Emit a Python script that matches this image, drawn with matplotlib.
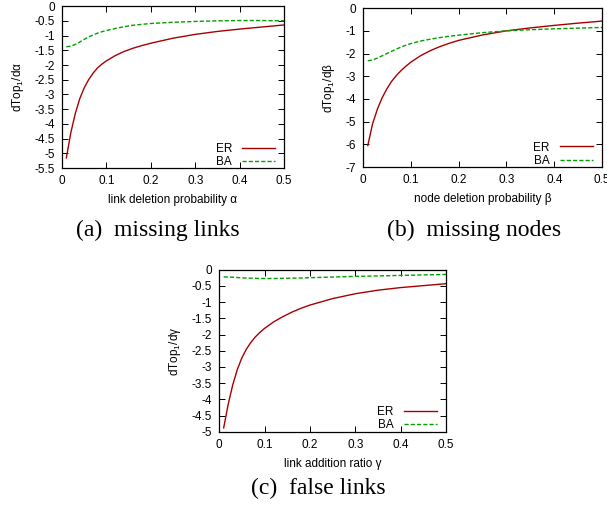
import numpy as np
import matplotlib
matplotlib.use('Agg')
import matplotlib.pyplot as plt
from matplotlib.ticker import FormatStrFormatter

plt.rcParams['font.family'] = ['Liberation Sans', 'DejaVu Sans']
plt.rcParams['mathtext.fontset'] = 'custom'
plt.rcParams['mathtext.rm'] = 'Liberation Sans'

# sample points along x (probability / ratio)
x = [0.01, 0.02, 0.03, 0.04, 0.05, 0.06, 0.07, 0.08, 0.09, 0.1,
     0.12, 0.14, 0.16, 0.18, 0.2, 0.25, 0.3, 0.35, 0.4, 0.45, 0.5]

# (a) missing links
er_a = [-5.15, -4.3, -3.65, -3.15, -2.78, -2.5, -2.28, -2.1, -1.97, -1.86,
        -1.68, -1.54, -1.43, -1.34, -1.26, -1.09, -0.96, -0.86, -0.78, -0.71, -0.64]
ba_a = [-1.38, -1.36, -1.3, -1.22, -1.13, -1.05, -0.98, -0.92, -0.87, -0.83,
        -0.76, -0.7, -0.65, -0.62, -0.59, -0.55, -0.52, -0.5, -0.49, -0.49, -0.5]

# (b) missing nodes
er_b = [-6.05, -5.1, -4.45, -3.95, -3.55, -3.22, -2.96, -2.74, -2.55, -2.38,
        -2.1, -1.88, -1.7, -1.55, -1.42, -1.18, -1.0, -0.87, -0.76, -0.66, -0.57]
ba_b = [-2.32, -2.28, -2.2, -2.1, -2.0, -1.9, -1.8, -1.71, -1.63, -1.56,
        -1.45, -1.37, -1.3, -1.24, -1.19, -1.08, -1.0, -0.95, -0.91, -0.88, -0.85]

# (c) false links
er_c = [-4.88, -4.15, -3.55, -3.08, -2.72, -2.45, -2.24, -2.07, -1.93, -1.81,
        -1.61, -1.45, -1.31, -1.19, -1.09, -0.89, -0.74, -0.63, -0.55, -0.49, -0.43]
ba_c = [-0.22, -0.225, -0.23, -0.24, -0.25, -0.255, -0.26, -0.265, -0.27, -0.27,
        -0.27, -0.265, -0.26, -0.255, -0.245, -0.225, -0.205, -0.19, -0.175, -0.16, -0.145]

xticks = [0, 0.1, 0.2, 0.3, 0.4, 0.5]

panels = [
    # rect, er, ba, ylim, yticks, xlabel, ylabel, caption, caption pos
    ([0.102, 0.669, 0.366, 0.319], er_a, ba_a, (-5.5, 0), np.arange(-5.5, 0.01, 0.5),
     u'link deletion probability \u03b1', u'dTop$_1$/d\u03b1', '(a)  missing links', (0.260, 0.547)),
    ([0.598, 0.671, 0.394, 0.313], er_b, ba_b, (-7, 0), np.arange(-7, 0.01, 1),
     u'node deletion probability \u03b2', u'dTop$_1$/d\u03b2', '(b)  missing nodes', (0.781, 0.547)),
    ([0.361, 0.150, 0.374, 0.319], er_c, ba_c, (-5, 0), np.arange(-5, 0.01, 0.5),
     u'link addition ratio \u03b3', u'dTop$_1$/d\u03b3', '(c)  false links', (0.524, 0.039)),
]

fs = 8.5
fig = plt.figure(figsize=(6.07, 5.08), dpi=100)

for rect, er, ba, ylim, yticks, xlab, ylab, cap, cpos in panels:
    ax = fig.add_axes(rect)
    ax.plot(x, er, color='#a80000', lw=1.0, label='ER')
    ax.plot(x, ba, color='#00a000', lw=1.0, ls=(0, (3, 1.5)), label='BA')
    ax.set_xlim(0, 0.5)
    ax.set_ylim(*ylim)
    ax.set_xticks(xticks)
    ax.set_yticks(yticks)
    ax.xaxis.set_major_formatter(FormatStrFormatter('%g'))
    ax.yaxis.set_major_formatter(FormatStrFormatter('%g'))
    ax.tick_params(direction='in', top=True, right=True, labelsize=fs, length=4, width=0.7, pad=5)
    for s in ax.spines.values():
        s.set_linewidth(0.9)
    ax.set_xlabel(xlab, fontsize=fs, labelpad=5)
    ax.set_ylabel(ylab, fontsize=fs, labelpad=6)
    ax.legend(loc='lower right', bbox_to_anchor=(0.975, -0.02), frameon=False,
              fontsize=fs, markerfirst=False,
              handlelength=2.8, handletextpad=0.85, labelspacing=0.1,
              borderaxespad=0.0, borderpad=0.3)
    fig.text(cpos[0], cpos[1], cap, ha='center', va='center', fontsize=17,
             family='Liberation Serif')

fig.savefig('out.png', dpi=100)
